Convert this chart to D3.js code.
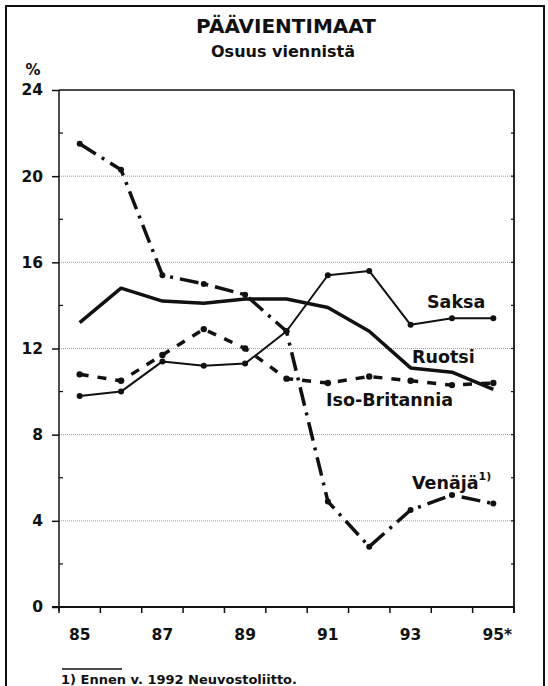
<!DOCTYPE html>
<html>
<head>
<meta charset="utf-8">
<script src="https://cdn.jsdelivr.net/npm/d3@7"></script>
<style>
  body { margin: 0; background: #fff; }
  svg text { font-family: "DejaVu Sans", sans-serif; font-weight: bold; fill: #111; }
</style>
</head>
<body>
<svg id="chart" width="548" height="686"></svg>
<script>
// data
var years = ["85","86","87","88","89","90","91","92","93","94","95"];
var xLabels = {"85":"85","87":"87","89":"89","91":"91","93":"93","95":"95*"};
var yTicks = [0, 4, 8, 12, 16, 20, 24];

var saksa        = [9.8, 10.0, 11.4, 11.2, 11.3, 12.8, 15.4, 15.6, 13.1, 13.4, 13.4];
var ruotsi       = [13.2, 14.8, 14.2, 14.1, 14.3, 14.3, 13.9, 12.8, 11.1, 10.9, 10.1];
var isoBritannia = [10.8, 10.5, 11.7, 12.9, 12.0, 10.6, 10.4, 10.7, 10.5, 10.3, 10.4];
var venaja       = [21.5, 20.3, 15.4, 15.0, 14.5, 12.8, 4.9, 2.8, 4.5, 5.2, 4.8];

var margin = {left: 59, right: 34, top: 90, bottom: 79};
var w_svg = 548, h_svg = 686;

var svg = d3.select("#chart");

var x = d3.scaleBand()
          .domain(years)
          .range([margin.left, w_svg - margin.right]);
var y = d3.scaleLinear()
          .domain([0, 24])
          .range([h_svg - margin.bottom, margin.top]);

function cx(i) { return x(years[i]) + x.bandwidth()/2; }

// outer frame
svg.append("path")
   .attr("d", "M6,690 L6,6 L544,6 L544,690")
   .style("fill", "none")
   .style("stroke", "#111")
   .style("stroke-width", 2);

// titles
svg.append("text").attr("x", 286).attr("y", 33)
   .attr("text-anchor", "middle").style("font-size", "20px")
   .text("PÄÄVIENTIMAAT");
svg.append("text").attr("x", 283).attr("y", 57)
   .attr("text-anchor", "middle").style("font-size", "16px")
   .text("Osuus viennistä");
svg.append("text").attr("x", 33).attr("y", 75)
   .attr("text-anchor", "middle").style("font-size", "15px")
   .text("%");

// dotted grid lines
svg.selectAll(".grid")
   .data(yTicks.filter(function(d) { return d > 0 && d < 24; }))
   .enter().append("line")
   .attr("x1", x.range()[0]).attr("x2", x.range()[1])
   .attr("y1", function(d) { return y(d); })
   .attr("y2", function(d) { return y(d); })
   .style("stroke", "#999")
   .style("stroke-width", 1)
   .style("stroke-dasharray", "1,1");

// left axis: major ticks outward, minor ticks inward
var leftAxis = svg.append("g")
   .attr("transform", "translate(" + margin.left + ",0)")
   .call(d3.axisLeft(y).tickValues(yTicks).tickSize(7).tickPadding(9));
leftAxis.select(".domain").remove();
leftAxis.selectAll("line").style("stroke", "#111").style("stroke-width", 1.5);
leftAxis.selectAll("text").style("font-size", "15.5px").style("font-family", "DejaVu Sans").style("font-weight", "bold");

var minor = d3.range(2, 24, 4);
svg.selectAll(".minorL")
   .data(minor).enter().append("line")
   .attr("x1", margin.left).attr("x2", margin.left + 4)
   .attr("y1", function(d) { return y(d); })
   .attr("y2", function(d) { return y(d); })
   .style("stroke", "#111").style("stroke-width", 1.2);

// right axis ticks inward
svg.selectAll(".minorR")
   .data(d3.range(2, 24, 2)).enter().append("line")
   .attr("x1", x.range()[1] - 3).attr("x2", x.range()[1] + 1)
   .attr("y1", function(d) { return y(d); })
   .attr("y2", function(d) { return y(d); })
   .style("stroke", "#111").style("stroke-width", 1.2);

// plot frame
svg.append("line").attr("x1", x.range()[0]).attr("x2", x.range()[0])
   .attr("y1", y(24)).attr("y2", y(0) + 4)
   .style("stroke", "#111").style("stroke-width", 1.5);
svg.append("line").attr("x1", x.range()[1]).attr("x2", x.range()[1])
   .attr("y1", y(24)).attr("y2", y(0) + 6)
   .style("stroke", "#111").style("stroke-width", 1.8);
svg.append("line").attr("x1", x.range()[0]).attr("x2", x.range()[1])
   .attr("y1", y(24)).attr("y2", y(24))
   .style("stroke", "#111").style("stroke-width", 1.5);
svg.append("line").attr("x1", x.range()[0] - 7).attr("x2", x.range()[1])
   .attr("y1", y(0)).attr("y2", y(0))
   .style("stroke", "#111").style("stroke-width", 2);

// x ticks at band edges
var edges = years.map(function(d) { return x(d); }).concat([x.range()[1]]);
svg.selectAll(".xtick")
   .data(edges).enter().append("line")
   .attr("x1", function(d) { return d; }).attr("x2", function(d) { return d; })
   .attr("y1", y(0)).attr("y2", y(0) + 6)
   .style("stroke", "#111").style("stroke-width", 1.5);

svg.selectAll(".xlabel")
   .data(years.filter(function(d) { return xLabels[d]; }))
   .enter().append("text")
   .attr("x", function(d) { return x(d) + x.bandwidth()/2 + (d == "95" ? 4 : 0); })
   .attr("y", 640)
   .attr("text-anchor", "middle")
   .style("font-size", "15.5px")
   .text(function(d) { return xLabels[d]; });

// series
var line = d3.line()
             .x(function(d, i) { return cx(i); })
             .y(function(d) { return y(d); });

function drawSeries(vals, width, dash, dotR) {
  svg.append("path")
     .datum(vals)
     .attr("d", line)
     .style("fill", "none")
     .style("stroke", "#111")
     .style("stroke-width", width)
     .style("stroke-linejoin", "round")
     .style("stroke-dasharray", dash);
  if (dotR > 0) {
    svg.selectAll(null)
       .data(vals).enter().append("circle")
       .attr("cx", function(d, i) { return cx(i); })
       .attr("cy", function(d) { return y(d); })
       .attr("r", dotR)
       .style("fill", "#111");
  }
}

drawSeries(ruotsi, 3.5, null, 0);
drawSeries(saksa, 2, null, 3);
drawSeries(isoBritannia, 3.5, "9,9", 3.2);
drawSeries(venaja, 3.5, "19,7,3,7", 3);

// series labels
svg.append("text").attr("x", 427).attr("y", 308).style("font-size", "17.5px").text("Saksa");
svg.append("text").attr("x", 412).attr("y", 363).style("font-size", "17.5px").text("Ruotsi");
svg.append("text").attr("x", 326).attr("y", 406).style("font-size", "17.5px").text("Iso-Britannia");
var ven = svg.append("text").attr("x", 412).attr("y", 489).style("font-size", "17.5px");
ven.append("tspan").text("Venäjä");
ven.append("tspan").attr("dy", -9).style("font-size", "11px").text("1)");

// footnote
svg.append("line").attr("x1", 62).attr("x2", 122).attr("y1", 669).attr("y2", 669)
   .style("stroke", "#111").style("stroke-width", 1.5);
svg.append("text").attr("x", 61).attr("y", 684).style("font-size", "13px")
   .text("1) Ennen v. 1992 Neuvostoliitto.");
</script>
</body>
</html>
